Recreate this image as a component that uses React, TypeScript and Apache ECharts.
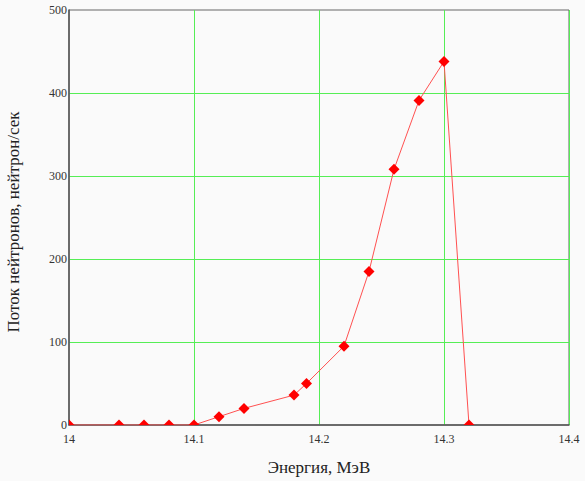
import React, { useEffect, useRef } from "react";
import * as echarts from "echarts";

const energy = [14.0, 14.04, 14.06, 14.08, 14.1, 14.12, 14.14, 14.18, 14.19, 14.22, 14.24, 14.26, 14.28, 14.3, 14.32];
const flux = [0, 0, 0, 0, 0, 10, 20, 36, 50, 95, 185, 308, 391, 438, 0];

const xTitle = "Энергия, МэВ";
const yTitle = "Поток нейтронов, нейтрон/сек";

export default function App() {
  const ref = useRef<HTMLDivElement>(null);
  useEffect(() => {
    if (!ref.current) return;
    const chart = echarts.init(ref.current, null, { renderer: "svg" });
    const pts = energy.map((e, i) => [e, flux[i]]);
    const font = "'Liberation Serif', 'Times New Roman', serif";
    chart.setOption({
      animation: false,
      backgroundColor: "#fafafa",
      grid: {
        left: 69,
        top: 10,
        right: 16,
        bottom: 53,
        show: true,
        borderColor: "#666",
        borderWidth: 1,
        backgroundColor: "transparent",
      },
      graphic: [
        {
          type: "text",
          x: 13,
          y: 222,
          rotation: Math.PI / 2,
          style: {
            text: yTitle,
            font: "17px 'Liberation Serif', 'Times New Roman', serif",
            fill: "#222",
            align: "center",
            verticalAlign: "middle",
          },
        },
      ],
      xAxis: {
        type: "value",
        min: 14.0,
        max: 14.4,
        interval: 0.1,
        name: xTitle,
        nameLocation: "middle",
        nameGap: 34,
        nameTextStyle: { fontFamily: font, fontSize: 17, color: "#222" },
        axisLine: { show: true, lineStyle: { color: "#555", width: 1.5 } },
        axisTick: { show: false },
        axisLabel: {
          fontFamily: font,
          fontSize: 12,
          color: "#333",
          margin: 8,
          formatter: (v: number) => String(Math.round(v * 10) / 10),
        },
        splitLine: { show: true, showMinLine: false, showMaxLine: true, lineStyle: { color: "#55ee55", width: 1 } },
      },
      yAxis: {
        type: "value",
        min: 0,
        max: 500,
        interval: 100,
        axisLine: { show: true, lineStyle: { color: "#555", width: 1.5 } },
        axisTick: { show: false },
        axisLabel: { fontFamily: font, fontSize: 12, color: "#333", margin: 2 },
        splitLine: { show: true, showMinLine: false, showMaxLine: false, lineStyle: { color: "#55ee55", width: 1 } },
      },
      series: [
        {
          type: "line",
          data: pts,
          symbol: "none",
          lineStyle: { color: "#ff5050", width: 1 },
          clip: true,
          z: 3,
        },
        {
          type: "custom",
          data: pts,
          clip: true,
          z: 4,
          renderItem: (params: any, api: any) => {
            const p = api.coord([api.value(0), api.value(1)]);
            const r = 5.5;
            return {
              type: "polygon",
              shape: {
                points: [
                  [p[0], p[1] - r],
                  [p[0] + r, p[1]],
                  [p[0], p[1] + r],
                  [p[0] - r, p[1]],
                ],
              },
              style: { fill: "#ff0000" },
            };
          },
        },
      ],
    });
    return () => chart.dispose();
  }, []);
  return (
    <div
      ref={ref}
      style={{ position: "fixed", left: 0, top: 0, width: 585, height: 481 }}
    />
  );
}
